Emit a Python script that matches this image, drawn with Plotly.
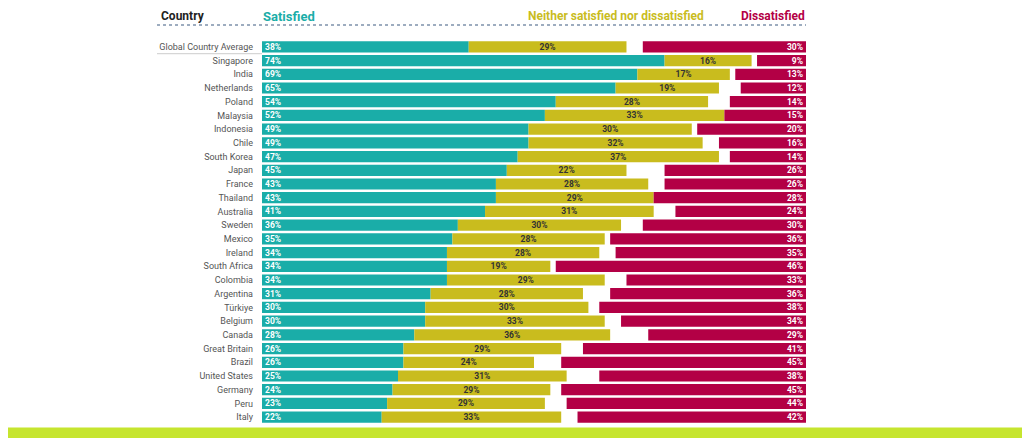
import plotly.graph_objects as go

countries = ['Global Country Average', 'Singapore', 'India', 'Netherlands',
             'Poland', 'Malaysia', 'Indonesia', 'Chile', 'South Korea',
             'Japan', 'France', 'Thailand', 'Australia', 'Sweden', 'Mexico',
             'Ireland', 'South Africa', 'Colombia', 'Argentina', 'Türkiye',
             'Belgium', 'Canada', 'Great Britain', 'Brazil', 'United States',
             'Germany', 'Peru', 'Italy']
satisfied = [38, 74, 69, 65, 54, 52, 49, 49, 47, 45, 43, 43, 41, 36, 35, 34,
             34, 34, 31, 30, 30, 28, 26, 26, 25, 24, 23, 22]
neither = [29, 16, 17, 19, 28, 33, 30, 32, 37, 22, 28, 29, 31, 30, 28, 28,
           19, 29, 28, 30, 33, 36, 29, 24, 31, 29, 29, 33]
dissatisfied = [30, 9, 13, 12, 14, 15, 20, 16, 14, 26, 26, 28, 24, 30, 36, 35,
                46, 33, 36, 38, 34, 29, 41, 45, 38, 45, 44, 42]

TEAL = '#1aada8'
YELLOW = '#c9bc1e'
RED = '#b30045'

neither_base = satisfied
diss_base = [100 - d for d in dissatisfied]

fig = go.Figure()
common = dict(y=countries, orientation='h', width=0.82,
              marker_line_width=0, cliponaxis=False, hoverinfo='skip')

fig.add_trace(go.Bar(x=satisfied, base=[0] * len(countries),
                     marker_color=TEAL,
                     text=[f'<b>{v}%</b>' for v in satisfied],
                     textposition='inside', insidetextanchor='start',
                     insidetextfont=dict(color='white', family='Roboto', size=8.5),
                     **common))
fig.add_trace(go.Bar(x=neither, base=neither_base,
                     marker_color=YELLOW,
                     text=[f'<b>{v}%</b>' for v in neither],
                     textposition='inside', insidetextanchor='middle',
                     insidetextfont=dict(color='#333333', family='Roboto', size=8.5),
                     **common))
fig.add_trace(go.Bar(x=dissatisfied, base=diss_base,
                     marker_color=RED,
                     text=[f'<b>{v}%</b>' for v in dissatisfied],
                     textposition='inside', insidetextanchor='end',
                     insidetextfont=dict(color='white', family='Roboto', size=8.5),
                     **common))

# headers, box top sits on the top edge of the figure
hdr = dict(xref='paper', yref='paper', y=1.083, yanchor='top',
           showarrow=False, borderpad=0)
fig.add_annotation(x=-0.188, text='<b>Country</b>', xanchor='left',
                   font=dict(family='Roboto', size=12, color='#222222'), **hdr)
fig.add_annotation(x=0.0, text='<b>Satisfied</b>', xanchor='left',
                   font=dict(family='Roboto', size=13, color=TEAL), **hdr)
fig.add_annotation(x=0.814, text='<b>Neither satisfied nor dissatisfied</b>',
                   xanchor='right',
                   font=dict(family='Roboto', size=12, color=YELLOW), **hdr)
fig.add_annotation(x=1.0, text='<b>Dissatisfied</b>', xanchor='right',
                   font=dict(family='Roboto', size=12, color=RED), **hdr)

shapes = [
    # dotted rule under headers
    dict(type='line', xref='paper', yref='paper', x0=-0.193, x1=1.0,
         y0=1.039, y1=1.039, line=dict(color='#3d5a80', width=1.2, dash='dot')),
    # light rule under the global average label
    dict(type='line', xref='paper', yref='y', x0=-0.193, x1=0.0,
         y0=0.5, y1=0.5, line=dict(color='#cccccc', width=1)),
    # lime footer band
    dict(type='rect', xref='paper', yref='paper', x0=-0.6, x1=1.6,
         y0=-0.2, y1=-0.009, fillcolor='#c6e52f', line_width=0, layer='above'),
]

# the page has an 8px body margin, so margins are shifted by 8px
fig.update_layout(
    width=1030, height=438,
    barmode='overlay',
    showlegend=False,
    plot_bgcolor='white', paper_bgcolor='white',
    margin=dict(l=254, r=232, t=32, b=22),
    shapes=shapes,
    xaxis=dict(range=[0, 100], visible=False, fixedrange=True),
    yaxis=dict(categoryorder='array', categoryarray=countries,
               autorange=False, range=[27.5, -0.5],
               showgrid=False, zeroline=False, showline=False,
               ticks='', ticklabelstandoff=8,
               tickfont=dict(family='Roboto', size=9, color='#555555')),
    uniformtext=dict(minsize=7, mode='show'),
)

fig.write_html('out.html')
